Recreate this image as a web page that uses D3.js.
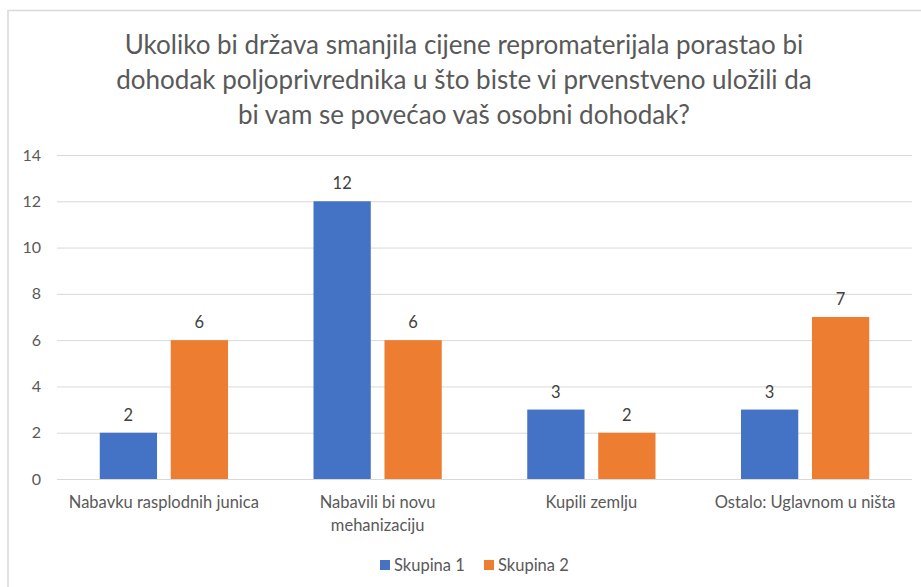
<!DOCTYPE html>
<html lang="hr">
<head>
<meta charset="UTF-8">
<title>Ulaganje dohotka</title>
<script src="https://d3js.org/d3.v7.min.js"></script>
<style>
  body { margin: 0; background: #fff; }
  svg text { font-family: Lato, "Open Sans", sans-serif; fill: #595959; }
  .grid line { stroke: #d9d9d9; stroke-width: 1; }
  .grid path { display: none; }
  .title { font-size: 26px; }
  .tick-label { font-size: 16px; }
  .cat-label { font-size: 16.5px; }
  .val-label { font-size: 16.5px; fill: #404040; }
  .legend-label { font-size: 16.5px; }
</style>
</head>
<body>
<svg width="921" height="587"></svg>
<script>
const categories = ["Nabavku rasplodnih junica", "Nabavili bi novu mehanizaciju", "Kupili zemlju", "Ostalo: Uglavnom u ništa"];
const series = ["Skupina 1", "Skupina 2"];
const skupina1 = [2, 12, 3, 3];
const skupina2 = [6, 6, 2, 7];
const yTicks = [0, 2, 4, 6, 8, 10, 12, 14];
const colors = ["#4472c4", "#ed7d31"];
const titleLines = [
  "Ukoliko bi država smanjila cijene repromaterijala porastao bi",
  "dohodak poljoprivrednika u što biste vi prvenstveno uložili da",
  "bi vam se povećao vaš osobni dohodak?"
];

const svg = d3.select("svg");
const margin = { top: 155, right: 9, bottom: 108, left: 57 };
const W = 921, H = 587;

// chart frame (only top and left edges fall inside the picture)
svg.append("rect")
  .attr("x", 8).attr("y", 10.5)
  .attr("width", 940).attr("height", 600)
  .attr("fill", "none").attr("stroke", "#d9d9d9").attr("stroke-width", 1.5);

const x0 = d3.scaleBand().domain(categories).range([margin.left, W - margin.right]);
const inner = x0.bandwidth() * 0.2;
const x1 = d3.scaleBand().domain(series)
  .range([inner, x0.bandwidth() - inner]).paddingInner(0.193);
const y = d3.scaleLinear().domain([0, 14]).range([H - margin.bottom, margin.top]);

// gridlines
svg.append("g").attr("class", "grid")
  .attr("transform", `translate(${margin.left},0)`)
  .call(d3.axisLeft(y).tickValues(yTicks).tickSize(-(W - margin.right - margin.left)).tickFormat(""));

// y tick labels
svg.append("g").selectAll("text")
  .data(yTicks).join("text")
  .attr("class", "tick-label")
  .attr("x", 41).attr("y", d => y(d)).attr("dy", "0.35em")
  .attr("text-anchor", "end")
  .text(d => d);

// bars
const rows = categories.map((c, i) => ({ cat: c, vals: [skupina1[i], skupina2[i]] }));
const grp = svg.append("g").selectAll("g")
  .data(rows).join("g")
  .attr("transform", d => `translate(${x0(d.cat)},0)`);

grp.selectAll("rect")
  .data(d => d.vals.map((v, k) => ({ s: series[k], v, k })))
  .join("rect")
  .attr("x", d => x1(d.s))
  .attr("y", d => y(d.v))
  .attr("width", x1.bandwidth())
  .attr("height", d => y(0) - y(d.v))
  .attr("fill", d => colors[d.k]);

grp.selectAll("text")
  .data(d => d.vals.map((v, k) => ({ s: series[k], v, k })))
  .join("text")
  .attr("class", "val-label")
  .attr("x", d => x1(d.s) + x1.bandwidth() / 2)
  .attr("y", d => y(d.v) - 12)
  .attr("text-anchor", "middle")
  .text(d => d.v);

// category labels with wrapping
const maxW = x0.bandwidth() - 6;
categories.forEach(c => {
  const cx = x0(c) + x0.bandwidth() / 2;
  const t = svg.append("text")
    .attr("class", "cat-label")
    .attr("text-anchor", "middle")
    .attr("x", cx)
    .attr("y", 508);
  const words = c.split(" ");
  let line = [];
  let ts = t.append("tspan").attr("x", cx);
  words.forEach(w => {
    line.push(w);
    ts.text(line.join(" "));
    if (ts.node().getComputedTextLength() > maxW && line.length > 1) {
      line.pop();
      ts.text(line.join(" "));
      line = [w];
      ts = t.append("tspan").attr("x", cx).attr("dy", 23).text(w);
    }
  });
});

// title
svg.append("g").selectAll("text")
  .data(titleLines).join("text")
  .attr("class", "title")
  .attr("x", 464).attr("y", (d, i) => 54 + i * 35)
  .attr("text-anchor", "middle")
  .text(d => d);

// legend
const legend = svg.append("g");
const legendX = [380, 484];
series.forEach((s, i) => {
  legend.append("rect")
    .attr("x", legendX[i]).attr("y", 560)
    .attr("width", 10).attr("height", 10)
    .attr("fill", colors[i]);
  legend.append("text")
    .attr("class", "legend-label")
    .attr("x", legendX[i] + 14).attr("y", 565).attr("dy", "0.35em")
    .text(s);
});
</script>
</body>
</html>
